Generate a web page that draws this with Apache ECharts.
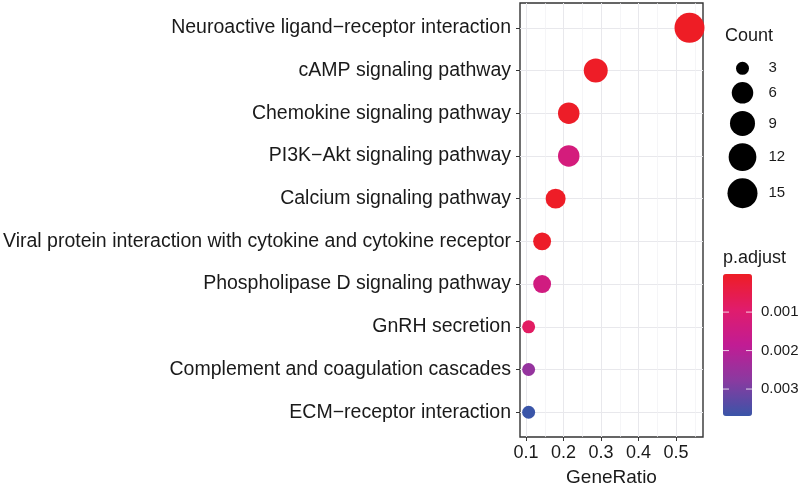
<!DOCTYPE html>
<html><head><meta charset="utf-8">
<script src="https://cdn.jsdelivr.net/npm/echarts@6/dist/echarts.min.js"></script>
<style>html,body{margin:0;padding:0;background:#fff}#c{width:800px;height:485px}</style>
</head><body><div id="c"></div>
<script>
const categories = ['Neuroactive ligand\u2212receptor interaction','cAMP signaling pathway','Chemokine signaling pathway','PI3K\u2212Akt signaling pathway','Calcium signaling pathway','Viral protein interaction with cytokine and cytokine receptor','Phospholipase D signaling pathway','GnRH secretion','Complement and coagulation cascades','ECM\u2212receptor interaction'];
const geneRatio = [0.536,0.286,0.214,0.214,0.179,0.143,0.143,0.107,0.107,0.107];
const counts = [15,8,6,6,5,4,4,3,3,3];
const pAdjust = [0.00001,0.00003,0.00005,0.0013,0.00004,0.00006,0.0014,0.0008,0.0026,0.0037];
const xTicks = [0.1,0.2,0.3,0.4,0.5];
const countLegend = [3,6,9,12,15];
const pTicks = [0.001,0.002,0.003];

const TEXT = '#1a1a1a';
const FONT = '"Liberation Sans", Arial, sans-serif';
const cMin = Math.min(...countLegend), cMax = Math.max(...countLegend);
function dia(c){ return 13 + 17*Math.sqrt((c-cMin)/(cMax-cMin)); }
const pMin = Math.min(...pAdjust), pMax = Math.max(...pAdjust);

// legend key layout (computed from key sizes)
const legY = [];
countLegend.forEach((c,i)=>{
  if(i===0) legY.push(28.3);
  else legY.push(legY[i-1] + (dia(countLegend[i-1])+dia(c))/2 + 7.3);
});

// colorbar geometry
const cb = {left:723, top:274, w:29, h:142};
const graphics = [
  {type:'text', left:725, top:27, style:{text:'Count', font:'18px ' + FONT, fill:TEXT}},
  {type:'text', left:723, top:249, style:{text:'p.adjust', font:'18px ' + FONT, fill:TEXT}}
];
pTicks.forEach(v=>{
  const y = cb.top + (v-pMin)/(pMax-pMin)*cb.h;
  graphics.push({type:'line', z:100, shape:{x1:cb.left, y1:y, x2:cb.left+6, y2:y}, style:{stroke:'rgba(255,255,255,0.8)', lineWidth:1}});
  graphics.push({type:'line', z:100, shape:{x1:cb.left+cb.w-6, y1:y, x2:cb.left+cb.w, y2:y}, style:{stroke:'rgba(255,255,255,0.8)', lineWidth:1}});
  graphics.push({type:'text', z:100, x:761, y:y, style:{text:v.toFixed(3), font:'15px ' + FONT, fill:TEXT, verticalAlign:'middle', align:'left'}});
});

const chart = echarts.init(document.getElementById('c'), null, {renderer:'canvas'});
chart.setOption({
  animation:false,
  backgroundColor:'#fff',
  grid:[
    {left:520, top:3, width:183, height:434, show:true, borderColor:'#333', borderWidth:1.4, backgroundColor:'transparent', outerBoundsMode:'none', containLabel:false},
    {left:720, top:40, width:50, height:180, show:false, outerBoundsMode:'none', containLabel:false}
  ],
  xAxis:[
    {type:'value', gridIndex:0, min:0.084, max:0.572, splitNumber:5,
     axisLine:{show:false},
     axisTick:{show:true, length:4, lineStyle:{color:'#333', width:1}, customValues:xTicks},
     axisLabel:{show:true, customValues:xTicks, margin:7, color:TEXT, fontSize:18, fontFamily:FONT, formatter:v=>String(v)},
     splitLine:{show:true, lineStyle:{color:'#E8E8EC', width:1}},
     minorTick:{show:false, splitNumber:2},
     minorSplitLine:{show:true, lineStyle:{color:'#F0F0F3', width:0.7}},
     name:'GeneRatio', nameLocation:'middle', nameGap:31,
     nameTextStyle:{color:TEXT, fontSize:19, fontFamily:FONT}},
    {type:'value', gridIndex:1, min:0, max:1, show:false}
  ],
  yAxis:[
    {type:'value', gridIndex:0, min:0.42, max:10.58, inverse:true, splitNumber:10,
     axisLine:{show:false},
     axisTick:{show:true, length:4, lineStyle:{color:'#333', width:1}, customValues:categories.map((c,i)=>i+1)},
     axisLabel:{show:true, customValues:categories.map((c,i)=>i+1), margin:9, color:TEXT, fontSize:19.5, fontFamily:FONT,
       formatter:v=>{const k=Math.round(v); return Math.abs(v-k)<1e-6 && categories[k-1] ? categories[k-1] : '';}},
     splitLine:{show:true, lineStyle:{color:'#E8E8EC', width:1}}},
    {type:'value', gridIndex:1, min:0, max:180, inverse:true, show:false}
  ],
  visualMap:[{
    type:'continuous', seriesIndex:0, dimension:3, min:pMin, max:pMax, inverse:true,
    orient:'vertical', left:cb.left, top:cb.top, itemWidth:cb.w, itemHeight:cb.h, padding:0,
    calculable:false, hoverLink:false, text:null, showLabel:false,
    inRange:{color:['#EE1D25','#E01C6C','#C11C94','#8A3AA0','#3A55A8']}
  }],
  series:[
    {type:'scatter', xAxisIndex:0, yAxisIndex:0, z:5,
     data:geneRatio.map((g,i)=>[g, i+1, counts[i], pAdjust[i]]),
     symbolSize:v=>dia(v[2]),
     itemStyle:{opacity:1}, emphasis:{disabled:true}},
    {type:'scatter', xAxisIndex:1, yAxisIndex:1, z:5,
     data:countLegend.map((c,i)=>[0.45, legY[i], c]),
     symbolSize:v=>dia(v[2]),
     itemStyle:{color:'#000', opacity:1},
     label:{show:true, position:'inside', align:'left', offset:[26,0], formatter:p=>String(p.value[2]), color:TEXT, fontSize:15, fontFamily:FONT},
     emphasis:{disabled:true}}
  ],
  graphic:graphics
});
</script></body></html>
